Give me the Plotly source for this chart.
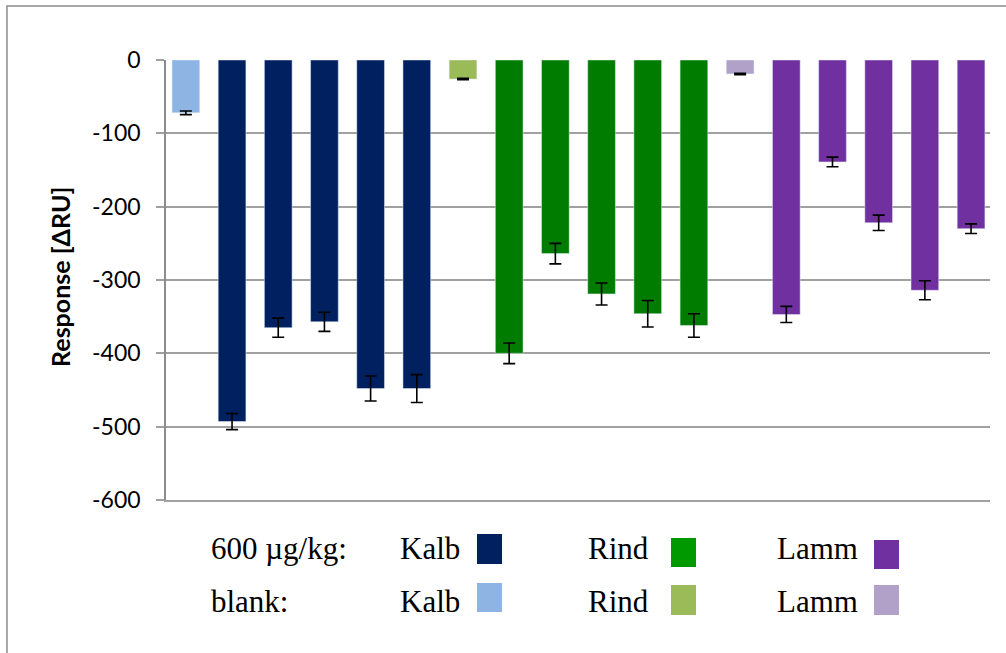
import plotly.graph_objects as go

# Response values (ΔRU) per meat type: blank first, then five 600 µg/kg samples
groups = ["Kalb", "Rind", "Lamm"]
blank_values = [-72, -26, -19]
blank_errors = [2.5, 1, 1]

kalb_values = [-493, -365, -357, -448, -448]
kalb_errors = [11, 13, 13, 17, 19]
rind_values = [-400, -264, -319, -346, -362]
rind_errors = [14, 14, 15, 18, 16]
lamm_values = [-347, -139, -222, -314, -230]
lamm_errors = [11, 6.5, 10.5, 13, 6.5]

y_ticks = [0, -100, -200, -300, -400, -500, -600]

sample_colors = {"Kalb": "#002060", "Rind": "#007D00", "Lamm": "#7030A0"}
legend_sample_colors = {"Kalb": "#002060", "Rind": "#009900", "Lamm": "#7030A0"}
blank_colors = {"Kalb": "#8DB4E2", "Rind": "#9BBB59", "Lamm": "#B1A0C7"}

sample_values = {"Kalb": kalb_values, "Rind": rind_values, "Lamm": lamm_values}
sample_errors = {"Kalb": kalb_errors, "Rind": rind_errors, "Lamm": lamm_errors}

fig = go.Figure()
err_style = dict(type="data", color="black", thickness=1.6, width=6, visible=True)

pos = 0
for i, g in enumerate(groups):
    fig.add_trace(go.Bar(
        x=[pos], y=[blank_values[i]], marker_color=blank_colors[g],
        error_y=dict(array=[blank_errors[i]], **err_style),
        width=0.6, showlegend=False, name=g + " blank"))
    pos += 1
    n = len(sample_values[g])
    fig.add_trace(go.Bar(
        x=list(range(pos, pos + n)), y=sample_values[g], marker_color=sample_colors[g],
        error_y=dict(array=sample_errors[g], **err_style),
        width=0.6, showlegend=False, name=g + " 600 µg/kg"))
    pos += n

fig.update_layout(
    width=1006, height=653,
    margin=dict(l=166, r=16, t=60, b=153),
    paper_bgcolor="white", plot_bgcolor="white",
    barmode="overlay",
    showlegend=False,
    font=dict(family="Lato", color="black"),
)

fig.update_xaxes(range=[-0.43, 17.41], showticklabels=False, showgrid=False,
                 zeroline=False, showline=True, linecolor="#A0A0A0", linewidth=1.5,
                 ticks="")
fig.update_yaxes(range=[-600, 0], tickvals=y_ticks, ticktext=[str(v) for v in y_ticks],
                 showgrid=True, gridcolor="#A0A0A0", gridwidth=1.5,
                 zeroline=False, showline=True, linecolor="#8C8C8C", linewidth=1.5,
                 ticks="outside", ticklen=8, tickcolor="#A0A0A0", tickwidth=1.5,
                 ticklabelstandoff=11,
                 tickfont=dict(family="Lato", size=23, color="black"))

# y-axis title
fig.add_annotation(text="<b>Response [ΔRU]</b>", xref="paper", yref="paper",
                   x=-0.1286, y=0.507, xanchor="center", yanchor="middle",
                   textangle=-90, showarrow=False,
                   font=dict(family="Lato", size=25, color="black"))

# outer chart frame
fig.add_shape(type="rect", xref="paper", yref="paper",
              x0=-0.193, x1=1.2, y0=-0.5, y1=1.1227,
              line=dict(color="#8C8C8C", width=1.5), fillcolor="rgba(0,0,0,0)", layer="below")

# custom legend below the chart
W, H, L, B = 824.0, 440.0, 166.0, 500.0


def px_x(x):
    return (x - L) / W


def px_y(y):
    return (B - y) / H


serif = dict(family="Liberation Serif", size=31, color="black")
rows = [("600 µg/kg:", 548, legend_sample_colors, [(534, 564), (538, 567), (540, 569)]),
        ("blank:", 601, blank_colors, [(583, 612), (585, 615), (585, 615)])]
text_x = [398, 586, 775]
box_x = [(477, 502), (671, 696), (874, 899)]
for label, yc, colors, boxes in rows:
    fig.add_annotation(text=label, xref="paper", yref="paper", x=px_x(209), y=px_y(yc),
                       xanchor="left", yanchor="middle", showarrow=False, font=serif)
    for j, g in enumerate(groups):
        fig.add_annotation(text=g, xref="paper", yref="paper", x=px_x(text_x[j]), y=px_y(yc),
                           xanchor="left", yanchor="middle", showarrow=False, font=serif)
        fig.add_shape(type="rect", xref="paper", yref="paper",
                      x0=px_x(box_x[j][0]), x1=px_x(box_x[j][1]),
                      y0=px_y(boxes[j][1]), y1=px_y(boxes[j][0]),
                      fillcolor=colors[g], line=dict(width=0))

fig.write_html("out.html")
